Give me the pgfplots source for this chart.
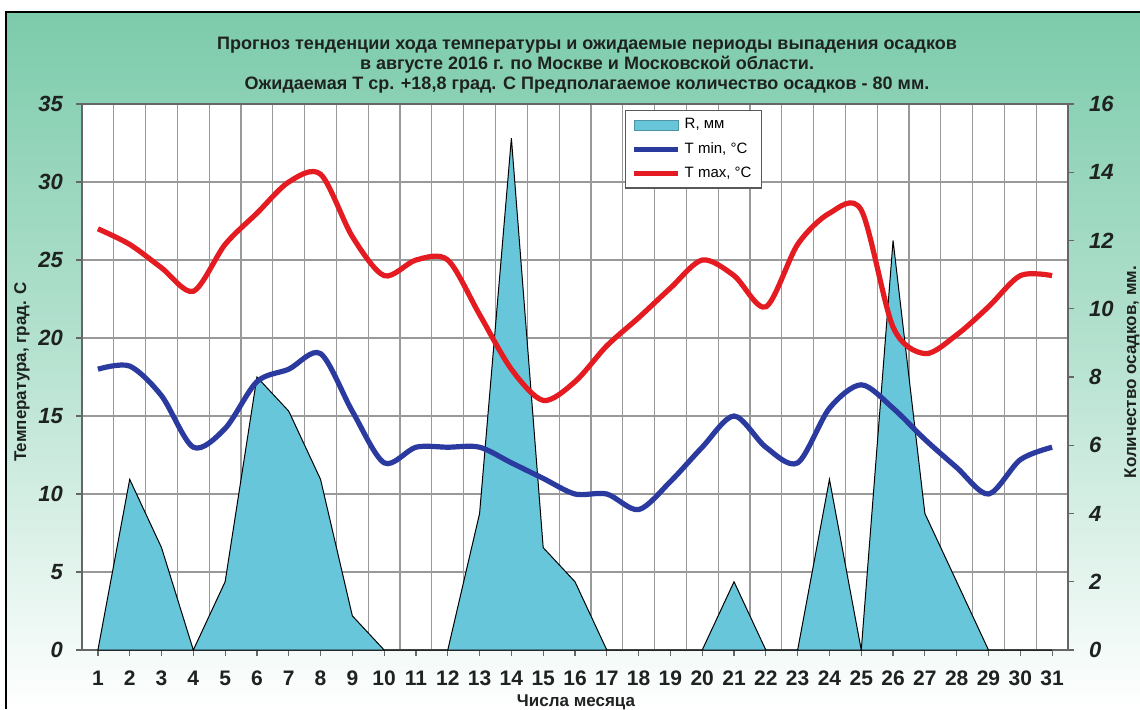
\documentclass[border=0pt]{standalone}
\usepackage{pgfplots}
\usepackage{pgfplotstable}
\pgfplotsset{compat=1.18}
\usepackage{fontspec}
\setmainfont{Liberation Sans}
\definecolor{bggreen}{RGB}{124,203,171}
\definecolor{rcol}{RGB}{104,198,218}
\definecolor{tmincol}{RGB}{42,58,158}
\definecolor{tmaxcol}{RGB}{228,28,34}
\definecolor{txt}{RGB}{30,34,32}
\pgfplotstableread{
day tmax tmin r
1 27 18 0
2 26 18.2 5
3 24.5 16.3 3
4 23 13 0
5 26 14.2 2
6 28 17.2 8
7 30 18 7
8 30.5 19 5
9 26.5 15.3 1
10 24 12 0
11 25 13 0
12 25 13 0
13 21.5 13 4
14 18 12 15
15 16 11 3
16 17.2 10 2
17 19.5 10 0
18 21.3 9 0
19 23.2 10.8 0
20 25 13 0
21 24 15 2
22 22 13 0
23 26 12 0
24 28 15.5 5
25 28.2 17 0
26 20.7 15.5 12
27 19 13.5 4
28 20.2 11.7 2
29 22 10 0
30 24 12.2 0
31 24 13 0
}\data
\pgfplotsset{base/.style={scale only axis, width=493pt, height=273pt,
  xmin=0.5, xmax=31.5, at={(41pt,-325pt)}, anchor=south west,
  /pgf/number format/assume math mode=true}}
\begin{document}
\begin{tikzpicture}[x=1pt,y=1pt]
\path[use as bounding box] (0,0) rectangle (570,-354.5);
\fill[top color=bggreen, bottom color=white, middle color=bggreen!55!white] (3,-6) rectangle (570,-354.5);
\draw[black, line width=0.8pt] (3,-354.5) -- (3,-6) -- (570,-6);
% grid + temperature axis
\begin{axis}[base, ymin=0, ymax=35, ytick={0,5,...,35},
  xtick={1,...,31}, minor xtick={1.5,2.5,...,30.5},
  xminorgrids=true, ymajorgrids=true, xmajorgrids=false,
  minor grid style={draw=gray!80, line width=0.6pt},
  major grid style={draw=gray!80, line width=0.6pt},
  axis line style={draw=gray!80!black, line width=0.8pt},
  tick style={draw=gray!80!black, line width=0.6pt},
  tick align=outside, major tick length=3pt, minor tick length=0pt,
  xtick pos=bottom, ytick pos=left,
  axis background/.style={fill=white},
  xticklabel style={font=\bfseries\fontsize{10.5}{11}\selectfont, text=txt, yshift=-4pt},
  yticklabel style={font=\bfseries\itshape\fontsize{11}{11}\selectfont, text=txt, xshift=-3pt},
]
\end{axis}
% precipitation axis
\begin{axis}[base, ymin=0, ymax=16, ytick={0,2,...,16},
  axis x line=none, axis y line*=right,
  axis line style={draw=gray!80!black, line width=0.8pt},
  tick style={draw=gray!80!black, line width=0.6pt},
  tick align=outside, major tick length=3pt,
  yticklabel style={font=\bfseries\itshape\fontsize{11}{11}\selectfont, text=txt, xshift=4pt},
]
\addplot[fill=rcol, draw=black, line width=0.5pt] table[x=day,y=r]{\data} \closedcycle;
\end{axis}
% temperature lines
\begin{axis}[base, ymin=0, ymax=35, hide axis,
  legend style={at={(0.551,0.989)}, anchor=north west, draw=gray!70!black,
    fill=white, font=\fontsize{7.5}{9}\selectfont, row sep=1.2pt, inner sep=2pt,
    inner xsep=3pt, cells={anchor=west}, line width=0.6pt},
  legend cell align=left]
\addlegendimage{legend image code/.code={\draw[fill=rcol, draw=rcol!75!black, line width=0.4pt] (0pt,-2.4pt) rectangle (22pt,2.4pt);}}
\addlegendentry{R, мм}
\addplot[tmincol, line width=2.6pt, smooth, tension=0.5,
  legend image code/.code={\draw[tmincol, line width=2.4pt] (0pt,0pt) -- (22pt,0pt);}]
  table[x=day,y=tmin]{\data};
\addlegendentry{T min, °C}
\addplot[tmaxcol, line width=2.6pt, smooth, tension=0.5,
  legend image code/.code={\draw[tmaxcol, line width=2.4pt] (0pt,0pt) -- (22pt,0pt);}]
  table[x=day,y=tmax]{\data};
\addlegendentry{T max, °C}
\end{axis}
% titles and labels
\node[align=center, font=\bfseries\fontsize{9}{10}\selectfont, text=txt] at (293.5,-32.5)
 {Прогноз тенденции хода температуры и ожидаемые периоды выпадения осадков\\
  в августе 2016 г. по Москве и Московской области.\\
  Ожидаемая Т ср. +18,8 град. С Предполагаемое количество осадков - 80 мм.};
\node[rotate=90, font=\bfseries\fontsize{8.5}{9}\selectfont, text=txt] at (11,-186) {Температура, град. С};
\node[rotate=90, font=\bfseries\fontsize{8.5}{9}\selectfont, text=txt] at (566,-186) {Количество осадков, мм.};
\node[font=\bfseries\fontsize{8.5}{9}\selectfont, text=txt] at (288,-351) {Числа месяца};
\end{tikzpicture}
\end{document}
